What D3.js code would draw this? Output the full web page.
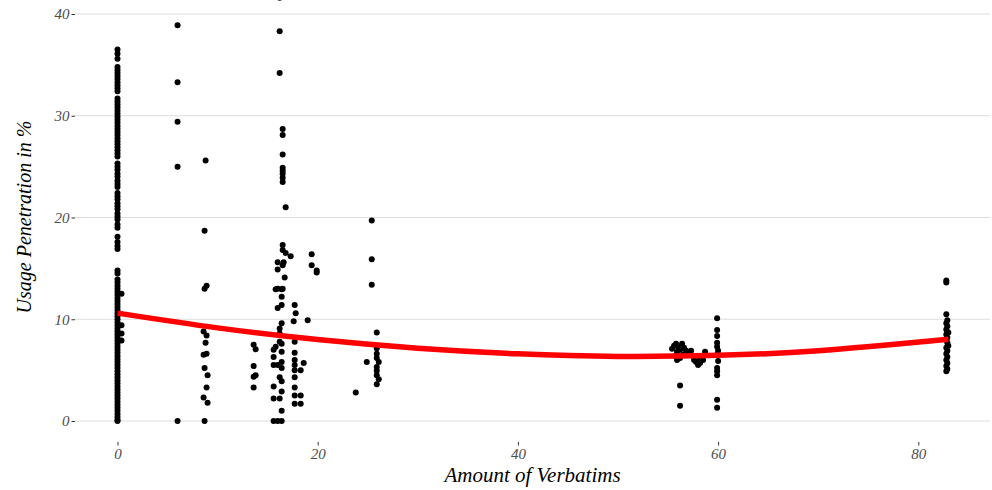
<!DOCTYPE html>
<html><head><meta charset="utf-8">
<script src="https://cdn.jsdelivr.net/npm/d3@7"></script>
<style>html,body{margin:0;padding:0;background:#fff;}svg{display:block;}</style>
</head><body>
<svg id="chart" width="992" height="490"></svg>
<script>
// ---- data ----
const xTicks = [0, 20, 40, 60, 80];
const yTicks = [0, 10, 20, 30, 40];
const xTitle = "Amount of Verbatims";
const yTitle = "Usage Penetration in %";

// points with 0 verbatims (y values only)
const zeroVerbatimY = [36.5, 36.1, 35.6, 34.8, 34.5, 34.2, 33.9, 33.6, 33.3, 33.0, 32.7, 32.4,
  31.7, 31.4, 31.1, 30.8, 30.5, 30.2, 29.9, 29.6, 29.3, 29.0, 28.7, 28.4, 28.1, 27.8, 27.5, 27.2,
  26.9, 26.6, 26.3, 26.0, 25.3, 25.0, 24.7, 24.3, 24.0, 23.6, 23.3, 23.0, 22.4, 22.1, 21.8, 21.4,
  21.1, 20.8, 20.4, 20.1, 19.8, 19.3, 19.0, 18.1, 17.6, 17.2, 16.9, 14.8, 14.5, 13.9, 13.6, 13.3,
  13.0, 12.7, 12.4, 12.1, 11.8, 11.5, 11.2, 10.9, 10.6, 10.3, 10.0, 9.7, 9.4, 9.1, 8.8, 8.5, 8.2,
  7.9, 7.6, 7.3, 7.0, 6.7, 6.4, 6.1, 5.8, 5.5, 5.2, 4.9, 4.6, 4.3, 4.0, 3.7, 3.4, 3.1, 2.8, 2.5,
  2.2, 1.9, 1.6, 1.3, 1.0, 0.7, 0.4, 0.1, 0];
const zeroJitter = [[0.4, 12.5], [0.4, 9.4], [0.4, 8.6], [0.4, 7.9]];

const around6 = [[6.0, 38.9], [6.0, 33.3], [6.0, 29.4], [6.0, 25.0], [6.0, 0]];
const around9 = [[8.8, 25.6], [8.7, 18.7], [8.9, 13.3], [8.7, 13.0], [8.6, 8.8], [8.9, 8.4],
  [8.8, 7.7], [8.9, 6.6], [8.6, 6.5], [8.7, 5.2], [9.0, 4.5], [8.9, 3.3], [8.6, 2.3], [9.0, 1.8], [8.7, 0]];
const around14 = [[13.6, 7.5], [13.8, 7.05], [13.6, 5.4], [13.8, 4.5], [13.6, 4.35], [13.6, 3.3]];
const around16 = [[16.2, 41.6], [16.2, 38.3], [16.2, 34.2], [16.5, 28.7], [16.5, 28.1], [16.5, 26.2],
  [16.5, 24.9], [16.5, 24.6], [16.5, 24.3], [16.5, 23.9], [16.5, 23.5], [16.8, 21.0], [16.5, 17.3],
  [16.5, 16.8], [16.8, 16.5], [17.3, 16.2], [16.0, 15.6], [16.6, 15.6], [16.5, 15.3], [16.0, 14.9],
  [16.7, 14.1], [16.0, 13.0], [16.5, 13.0], [15.8, 12.95], [16.4, 12.95], [16.4, 12.2], [16.4, 11.4],
  [16.0, 11.1], [17.7, 11.4], [17.8, 10.6], [17.6, 9.8], [19.0, 9.9], [16.4, 9.6], [16.2, 9.1],
  [16.2, 8.6], [17.7, 7.8], [16.2, 7.8], [16.4, 7.6], [15.8, 7.3], [15.6, 7.0], [16.4, 6.8],
  [17.7, 6.7], [17.7, 6.0], [18.6, 5.7], [17.7, 5.5], [15.6, 6.3], [15.6, 5.5], [16.0, 5.5],
  [16.4, 5.8], [16.4, 5.2], [17.7, 5.0], [18.3, 5.0], [17.7, 4.3], [16.2, 4.3], [16.4, 3.9],
  [15.6, 3.4], [17.7, 3.3], [16.4, 2.9], [17.7, 2.5], [18.3, 2.5], [15.6, 2.2], [16.2, 2.2],
  [17.7, 1.7], [18.3, 1.7], [16.4, 1.0], [15.6, 0], [16.0, 0], [16.4, 0]];
const around19 = [[19.4, 16.4], [19.4, 15.3], [19.9, 14.8], [19.9, 14.6]];
const around25 = [[25.4, 19.7], [25.4, 15.9], [25.4, 13.4], [25.9, 8.7], [25.9, 7.15], [25.9, 6.6],
  [25.9, 6.2], [26.1, 5.8], [24.9, 5.8], [25.9, 5.3], [25.9, 4.95], [25.9, 4.5], [26.1, 4.1],
  [25.9, 3.6], [23.8, 2.8]];
const around56 = [[55.4, 7.1], [55.6, 7.4], [55.8, 7.6], [56.0, 7.3], [56.2, 7.0], [55.9, 6.8],
  [56.4, 7.6], [56.6, 7.2], [56.8, 6.9], [57.0, 6.6], [56.2, 6.2], [55.9, 6.0], [57.3, 6.9],
  [57.6, 6.0], [57.8, 5.8], [58.0, 5.5], [58.2, 5.7], [58.5, 6.0], [58.7, 6.8], [57.5, 6.4],
  [58.0, 6.2], [56.5, 6.5], [55.7, 6.4], [56.2, 3.5], [56.2, 1.5]];
const around60 = [[59.9, 10.1], [59.9, 8.95], [59.9, 8.36], [59.9, 7.7], [59.9, 7.3], [60.0, 6.9],
  [59.9, 6.5], [60.0, 5.9], [59.9, 5.2], [59.9, 4.9], [59.9, 4.5], [59.9, 2.1], [59.9, 1.3]];
const around83 = [[82.8, 13.8], [82.8, 13.6], [82.8, 10.5], [82.9, 9.9], [82.8, 9.6], [82.9, 9.3],
  [82.8, 9.0], [83.0, 8.7], [82.8, 8.5], [82.9, 8.2], [82.8, 8.0], [82.9, 7.7], [83.0, 7.4],
  [82.8, 7.2], [82.9, 6.9], [82.8, 6.6], [82.9, 6.3], [82.8, 6.0], [82.9, 5.7], [82.8, 5.4],
  [82.9, 5.1], [82.8, 4.9]];

// fitted trend
const trendX = [0, 10, 20, 30, 40, 50, 60, 70, 83];
const trendY = [10.6, 9.15, 8.0, 7.15, 6.6, 6.35, 6.45, 6.9, 8.03];

// ---- drawing ----
const svg = d3.select("#chart");
const font = "'Liberation Serif', serif";
const panel = {left: 75, right: 990, bottom: 442, top: 0};
const x = d3.scaleLinear().domain([0, 80]).range([117.5, 918.3]);
const y = d3.scaleLinear().domain([0, 40]).range([421, 14]);

// gridlines
svg.append("g").selectAll("line").data(yTicks).join("line")
  .attr("x1", panel.left).attr("x2", panel.right)
  .attr("y1", d => y(d)).attr("y2", d => y(d))
  .attr("stroke", "#dedede").attr("stroke-width", 1.1);

// axes
const yAxis = svg.append("g").attr("transform", `translate(${panel.left},0)`)
  .call(d3.axisLeft(y).tickValues(yTicks).tickSize(3.5).tickPadding(2).tickFormat(d3.format("d")));
const xAxis = svg.append("g").attr("transform", `translate(0,${panel.bottom})`)
  .call(d3.axisBottom(x).tickValues(xTicks).tickSize(3.5).tickPadding(3).tickFormat(d3.format("d")));
[yAxis, xAxis].forEach(a => {
  a.select(".domain").remove();
  a.selectAll(".tick line").attr("stroke", "#333").attr("stroke-width", 1);
  a.selectAll(".tick text").attr("fill", "#4d4d4d").style("font-family", font)
    .style("font-style", "italic").style("font-size", "15px");
});

// points
const allPoints = []
  .concat(zeroVerbatimY.map(v => [0, v]))
  .concat(zeroJitter, around6, around9, around14, around16, around19, around25, around56, around60, around83);
svg.append("g").selectAll("circle").data(allPoints).join("circle")
  .attr("cx", d => x(d[0])).attr("cy", d => y(d[1])).attr("r", 3).attr("fill", "#000");

// trend line
const line = d3.line().x(d => x(d[0])).y(d => y(d[1])).curve(d3.curveNatural);
svg.append("path").datum(trendX.map((v, i) => [v, trendY[i]]))
  .attr("d", line).attr("fill", "none").attr("stroke", "#ff0000").attr("stroke-width", 5.5);

// titles
svg.append("text").attr("x", (panel.left + panel.right) / 2).attr("y", 482)
  .attr("text-anchor", "middle").style("font-family", font).style("font-style", "italic")
  .style("font-size", "21px").attr("fill", "#000").text(xTitle);
svg.append("text").attr("transform", "translate(31,217) rotate(-90)")
  .attr("text-anchor", "middle").style("font-family", font).style("font-style", "italic")
  .style("font-size", "20px").attr("fill", "#000").text(yTitle);
</script>
</body></html>
